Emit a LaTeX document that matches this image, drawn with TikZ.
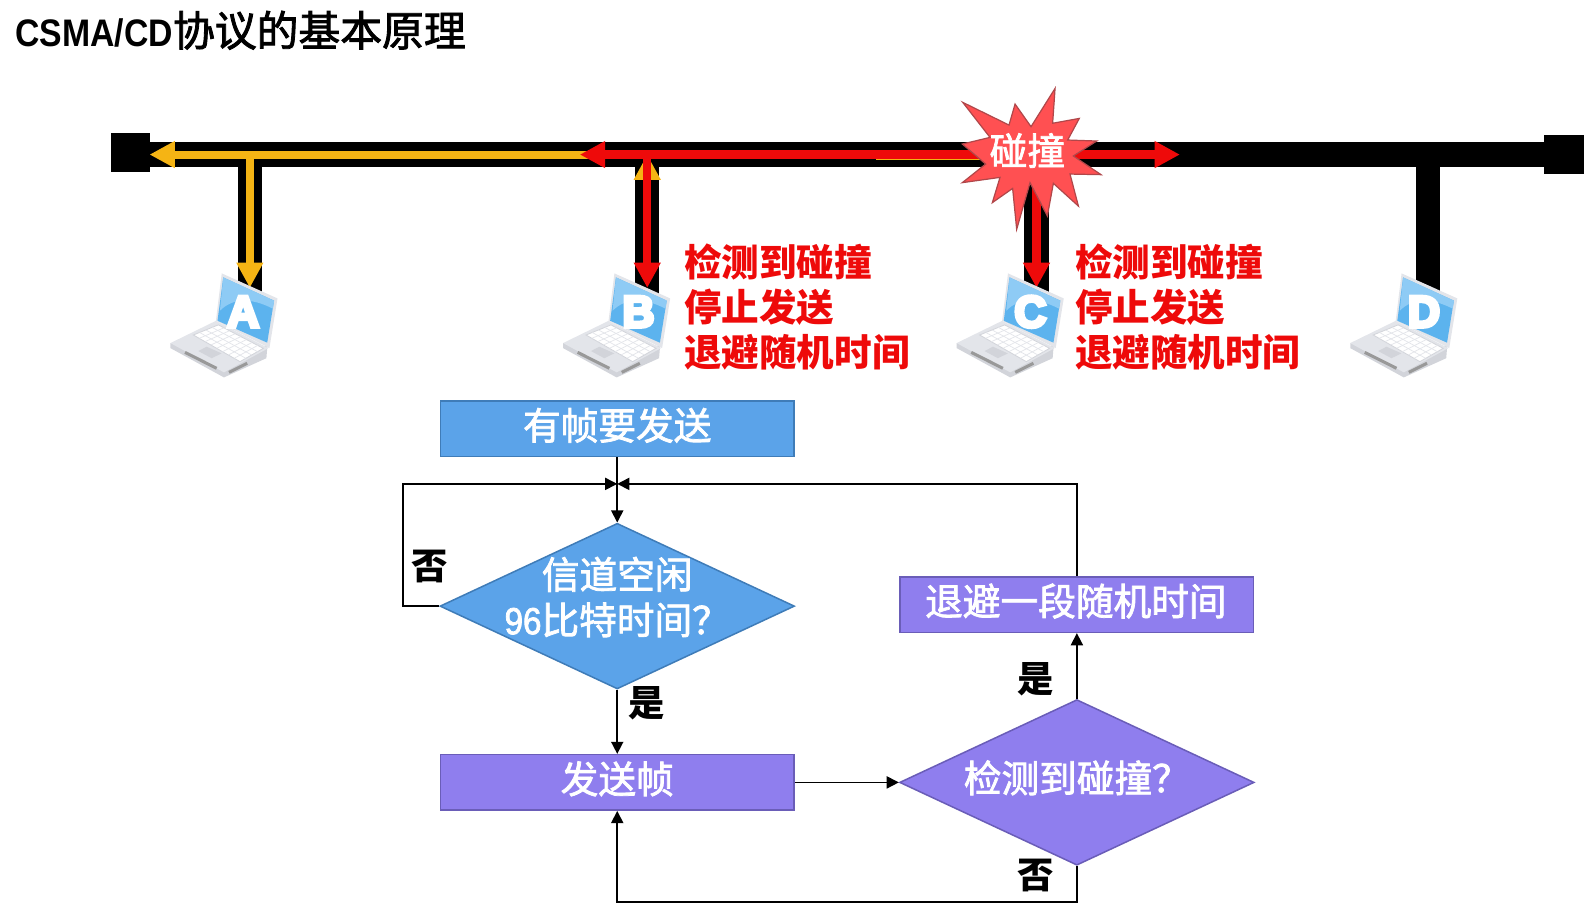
\documentclass[tikz,border=0pt]{standalone}
\usepackage{fontspec}
\setmainfont{Noto Sans CJK SC}
\newfontfamily\latinfont[FakeStretch=0.88]{Liberation Sans}
\newfontfamily\latinmed[FakeStretch=0.88,FakeBold=2]{Liberation Sans}
\newfontfamily\letterfont[FakeBold=8]{Liberation Sans Bold}
\newfontfamily\cjkmed[FakeBold=2]{Noto Sans CJK SC}
\usetikzlibrary{arrows.meta,shapes.geometric,calc}

\definecolor{flowblue}{HTML}{5BA3E9}
\definecolor{flowblueline}{HTML}{3F7CB8}
\definecolor{flowpurple}{HTML}{8F7EEE}
\definecolor{flowpurpleline}{HTML}{6A5DB8}
\definecolor{sigorange}{HTML}{F5B414}
\definecolor{sigred}{HTML}{EE0A0A}
\definecolor{starfill}{HTML}{FF5052}
\definecolor{starline}{HTML}{B0474A}
\definecolor{screenblue}{HTML}{5CB3EE}
\definecolor{screenlight}{HTML}{8ECBF5}
\definecolor{laptopbody}{HTML}{E3E5EA}
\definecolor{laptopside}{HTML}{D2D4DA}

\tikzset{
    termbox/.style={fill=black, minimum width=39pt, minimum height=39pt, inner sep=0pt},
    busline/.style={line width=24.5pt, black},
    sigorangeline/.style={line width=8pt, sigorange,
        -{Triangle[length=25pt,width=25pt]}},
    sigredline/.style={line width=9pt, sigred,
        -{Triangle[length=25pt,width=25pt]}},
    flowline/.style={line width=1.6pt, black, -{Triangle[length=12pt,width=12pt]}},
    bluebox/.style={draw=flowblueline, fill=flowblue, line width=1.5pt,
        minimum width=350pt, minimum height=55pt, inner sep=0pt},
    purplebox/.style={draw=flowpurpleline, fill=flowpurple, line width=1.5pt,
        minimum width=350pt, minimum height=55pt, inner sep=0pt},
    bluediamond/.style={diamond, draw=flowblueline, fill=flowblue, line width=1.5pt,
        minimum width=351pt, minimum height=164pt, inner sep=0pt},
    purplediamond/.style={diamond, draw=flowpurpleline, fill=flowpurple, line width=1.5pt,
        minimum width=351pt, minimum height=164pt, inner sep=0pt},
    flowtext/.style={text=white, inner sep=0pt, align=center,
        font=\cjkmed\fontsize{37.3}{45}\selectfont},
    yesno/.style={text=black, inner sep=0pt,
        font=\bfseries\fontsize{36}{36}\selectfont},
    rednote/.style={text=sigred, inner sep=0pt, align=left, anchor=west,
        font=\bfseries\fontsize{37.2}{44.5}\selectfont},
}

\begin{document}
\begin{tikzpicture}[x=1pt, y=-1pt]
\useasboundingbox (0,0) rectangle (1568,900);

% title
\node[anchor=west, inner sep=0pt, font=\cjkmed\fontsize{41.4}{41.4}\selectfont] (title) at (15,30)
    {{\bfseries\latinfont\fontsize{38}{38}\selectfont CSMA/CD}协议的基本原理};

% bus and its two ends
\node[termbox] (termL) at (129,151) {};
\node[termbox] (termR) at (1548,153) {};
\coordinate (busL) at (148,153);
\coordinate (busR) at (1529,153);
\draw[busline] (busL) -- (busR);

% taps down to the hosts
\foreach \name/\x in {A/247.3, B/640.7, C/1026, D/1413.5} {
    \coordinate (tap\name) at (\x,153);
    \coordinate (drop\name) at (\x,292);
    \draw[line width=24pt, black] (tap\name) -- (drop\name);
}

% signal from A
\coordinate (tapA) at (247.3,153);
\coordinate (tapB) at (640.7,153);
\coordinate (tapC) at (1026,153);
\coordinate (endA) at (247.3,285);
\coordinate (endBus) at (148,153);
\coordinate (meetB) at (595,153);
\draw[sigorangeline] (meetB) -- (endBus);
\draw[sigorangeline] (tapA) -- (endA);
\coordinate (upB) at (640.7,270);
\draw[sigorangeline] (upB) -- (tapB);

% signal from B and C
\coordinate (redL) at (574,153);
\coordinate (redR) at (1168,153);
\coordinate (endB) at (640.7,285);
\coordinate (endC) at (1026,285);
\draw[sigredline] (tapC) -- (redL);
\draw[sigredline] (tapB) -- (redR);
\draw[sigorange, line width=0.8pt] (867,157.5) -- (975,157.5);
\draw[sigredline, line width=8pt] (tapB) -- (endB);
\draw[sigredline, line width=8pt] (tapC) -- (endC);

% laptops
\foreach \name/\x/\letterx in {A/168.7/72, B/557.4/74.6, C/947/73, D/1336.6/73} {
\begin{scope}[shift={(\x,270.6)}]
    \fill[laptopside] (0,69) -- (0,74) -- (53,103) -- (95,84) -- (96,72) -- cycle;
    \fill[laptopbody] (0,69) -- (45,47) -- (97,74) -- (53,98) -- cycle;
    \fill[laptopbody] (50.8,0) -- (106,24.8) -- (98,74) -- (45,46.9) -- cycle;
    \fill[screenblue] (52.3,4) -- (102.6,27) -- (95.8,68.6) -- (46.6,46.9) -- cycle;
    \fill[screenlight] (52.3,4) -- (102.6,27) -- (101.5,35)
        .. controls (80,24) and (62,24) .. (49,37) -- cycle;
    % keyboard
    \fill[white, draw=laptopside, line width=0.8pt]
        (22.7,61) -- (47.4,51) -- (92,74.2) -- (68.9,87.4) -- cycle;
    \foreach \t in {0.25,0.5,0.75} {
        \draw[laptopbody, line width=0.7pt]
            ($(22.7,61)!\t!(47.4,51)$) -- ($(68.9,87.4)!\t!(92,74.2)$);
    }
    \foreach \t in {0.125,0.25,0.375,0.5,0.625,0.75,0.875} {
        \draw[laptopbody, line width=0.7pt]
            ($(22.7,61)!\t!(68.9,87.4)$) -- ($(47.4,51)!\t!(92,74.2)$);
    }
    % touchpad, front strip and port
    \fill[laptopside] (27.6,76.9) -- (35.9,72.6) -- (50.7,79.2) -- (40.8,84) -- cycle;
    \draw[gray!80, line width=3pt] (14.4,78.2) -- (45.8,94);
    \draw[gray!80, line width=3pt] (58,98) -- (76,89);
    \node[inner sep=0pt, text=white, font=\letterfont\fontsize{44}{44}\selectfont]
        (letter\name) at (\letterx,38) {\name};
\end{scope}
}

% collision star
\draw[fill=starfill, draw=starline, line width=1.2pt]
    (1044.4,87.5) -- (1042,122) -- (1068.4,117.2) -- (1056.9,138.6) -- (1085.6,139.6)
    -- (1062.5,154.4) -- (1089.9,172.9) -- (1059.2,172.3) -- (1067.5,204)
    -- (1042.7,181.5) -- (1036.8,213.8) -- (1019.6,180.8) -- (1006.4,227)
    -- (1002.4,186.5) -- (982.3,200.6) -- (989.9,175.6) -- (952.6,180.8)
    -- (975.7,162.4) -- (952.6,142.6) -- (980,136) -- (953,101.3)
    -- (998.8,123.8) -- (1004.8,103) -- (1020.6,125.4) -- cycle;
\node[flowtext] (crash) at (1017,149) {碰撞};

% notes
\node[rednote] (noteB) at (677,304) {检测到碰撞\\停止发送\\退避随机时间};
\node[rednote] (noteC) at (1064,304) {检测到碰撞\\停止发送\\退避随机时间};

% flow chart
\node[bluebox] (start) at (611,424.5) {};
\node[flowtext] (starttext) at (611,421) {有帧要发送};
\node[bluediamond] (idle) at (611,600) {};
\node[flowtext] (idletext) at (611,591) {信道空闲\\{\latinmed 96}比特时间？};
\node[purplebox] (send) at (611,774.5) {};
\node[flowtext] (sendtext) at (611,771) {发送帧};
\node[purplediamond] (detect) at (1066,774.5) {};
\node[flowtext] (detecttext) at (1066,770) {检测到碰撞？};
\node[purplebox] (backoff) at (1066,598.5) {};
\node[flowtext] (backofftext) at (1065,595) {退避一段随机时间};

\coordinate (merge) at (611,479);
\coordinate (leftturn) at (399,600);
\coordinate (underturn) at (1066,893);

\draw[flowline] (start.south) -- (idle.north);
\draw[flowline] (idle.west) -- (leftturn) |- (merge);
\draw[flowline] (backoff.north) |- (merge);
\draw[flowline] (idle.south) -- (send.north);
\draw[flowline] (send.east) -- (detect.west);
\draw[flowline] (detect.north) -- (backoff.south);
\draw[flowline] (detect.south) -- (underturn) -| (send.south);

\node[yesno] (idleno) at (425,561) {否};
\node[yesno] (idleyes) at (640,696) {是};
\node[yesno] (detectyes) at (1025,672) {是};
\node[yesno] (detectno) at (1025,867) {否};

\end{tikzpicture}
\end{document}
